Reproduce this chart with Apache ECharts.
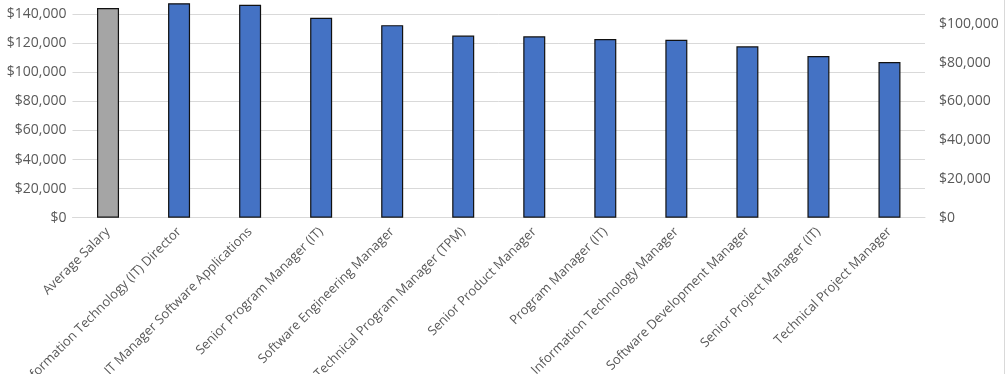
<!DOCTYPE html>
<html><head><meta charset="utf-8">
<script src="https://cdn.jsdelivr.net/npm/echarts@6/dist/echarts.min.js"></script>
<style>html,body{margin:0;padding:0;background:#fff}#c{width:1006px;height:374px}</style>
</head><body><div id="c"></div>
<script>
const categories = ["Average Salary","Information Technology (IT) Director","IT Manager Software Applications","Senior Program Manager (IT)","Software Engineering Manager","Technical Program Manager (TPM)","Senior Product Manager","Program Manager (IT)","Information Technology Manager","Software Development Manager","Senior Project Manager (IT)","Technical Project Manager"];
const salaries = [144100,147500,146400,137500,132400,125200,124700,122800,122400,117800,111200,107100];
const leftTicks = [0,20000,40000,60000,80000,100000,120000,140000,160000];
const rightTicks = [0,20000,40000,60000,80000,100000,120000];

const fmt = v => '$' + v.toLocaleString('en-US');
const chart = echarts.init(document.getElementById('c'), null, {renderer:'canvas'});
const font = '"Open Sans", "Noto Sans", sans-serif';
chart.setOption({
  animation:false,
  backgroundColor:'#fff',
  grid:{left:72.5, right:81, top:-15, bottom:156.3, containLabel:false, outerBoundsMode:'none'},
  xAxis:{type:'category', data:categories,
    axisLine:{show:true, lineStyle:{color:'#D9D9D9'}}, axisTick:{show:false},
    axisLabel:{rotate:45, interval:0, margin:12, color:'#595959', fontSize:13, fontFamily:font}},
  yAxis:[
    {type:'value', min:leftTicks[0], max:leftTicks[leftTicks.length-1], interval:20000,
     axisLine:{show:false}, axisTick:{show:false},
     splitLine:{lineStyle:{color:'#D9D9D9', width:1}},
     axisLabel:{formatter:fmt, margin:6, color:'#595959', fontSize:14, fontFamily:font}},
    {type:'value', position:'right', min:rightTicks[0], max:rightTicks[rightTicks.length-1], interval:20000,
     axisLine:{show:false}, axisTick:{show:false}, splitLine:{show:false},
     axisLabel:{formatter:fmt, margin:14, color:'#595959', fontSize:14, fontFamily:font}}
  ],
  series:[{type:'bar', barWidth:22, yAxisIndex:0,
    data:salaries.map((v,i)=>({value:v, itemStyle:{color: i===0 ? '#A5A5A5' : '#4472C4'}})),
    itemStyle:{borderColor:'#111', borderWidth:1.2}}],
  graphic:[{type:'line', shape:{x1:1004.5,y1:0,x2:1004.5,y2:374}, style:{stroke:'#D9D9D9', lineWidth:1}}]
});
</script></body></html>
